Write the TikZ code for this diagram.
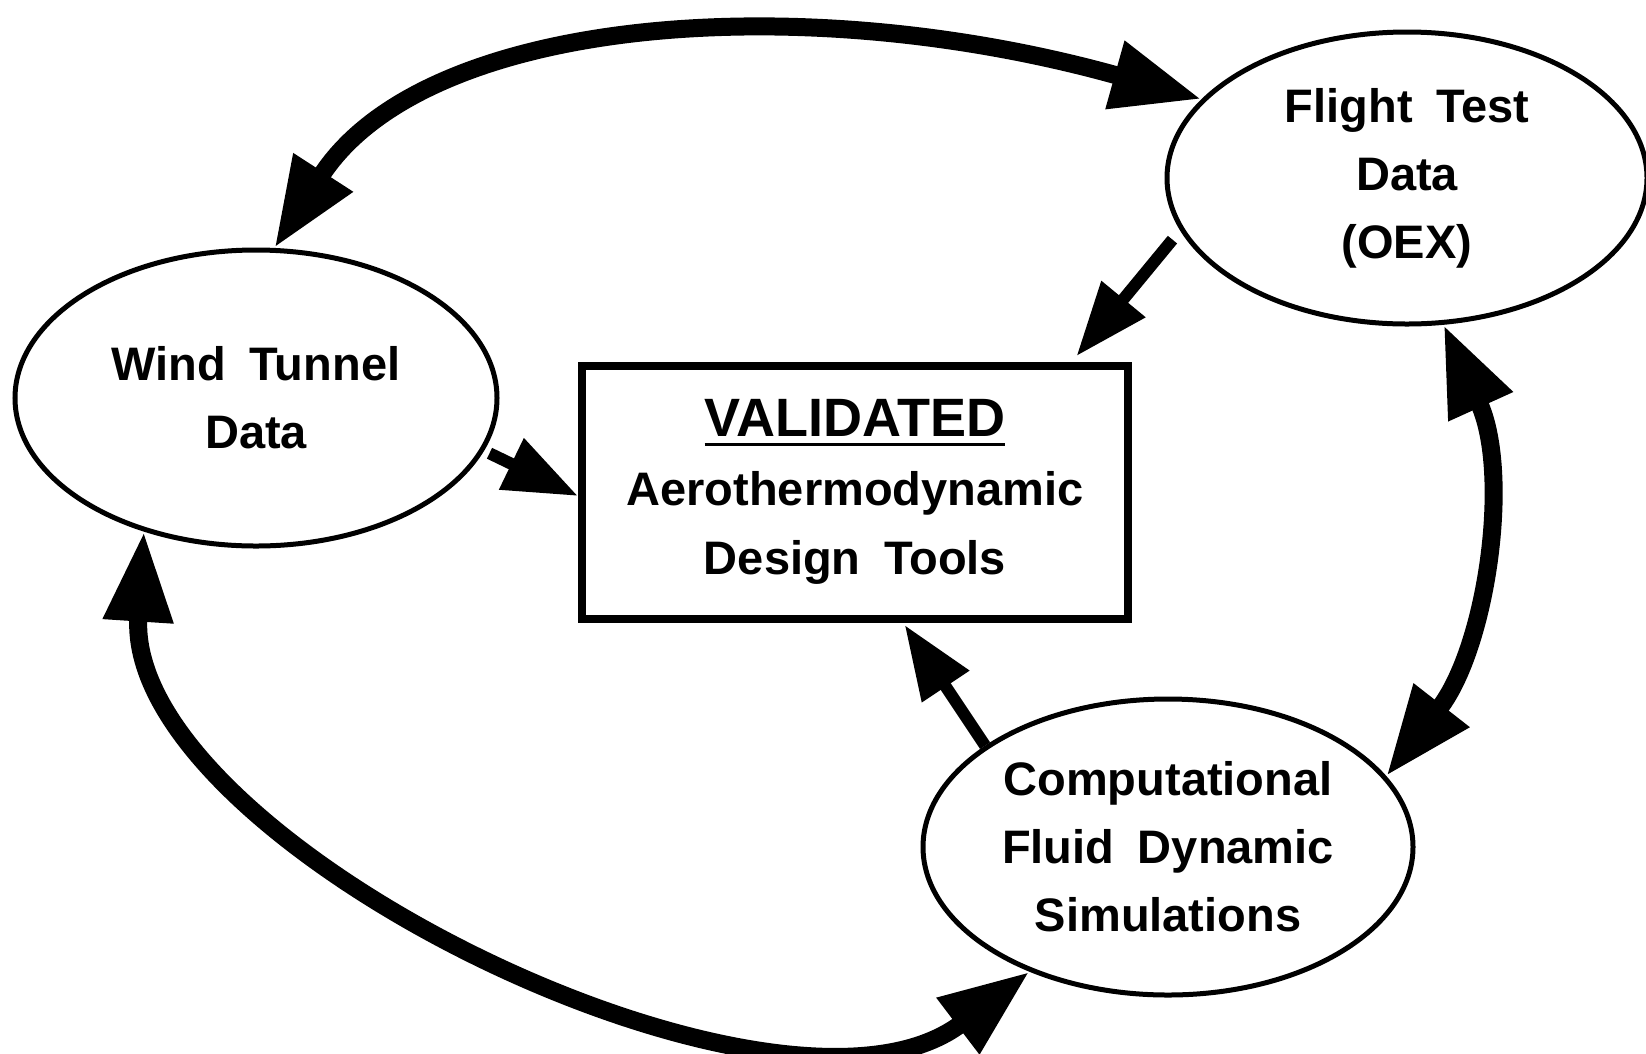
\documentclass[tikz,border=0pt]{standalone}
\usepackage{fontspec}
\setmainfont{Liberation Sans}[WordSpace=1.8]
\usetikzlibrary{shapes.geometric}
\usetikzlibrary{arrows.meta}

\newcommand{\ulword}[1]{\vtop{\hbox{#1}\kern6pt\hrule height 3.5pt}}

\begin{document}
\begin{tikzpicture}[x=1pt, y=-1pt,
    bubble/.style={draw, ellipse, line width=5pt, inner sep=0pt, align=center,
        font=\fontsize{47}{68}\selectfont\bfseries},
    toolbox/.style={draw, line width=8pt, inner sep=0pt, align=center,
        font=\fontsize{47}{69}\selectfont\bfseries},
    bigarrow/.style={line width=18pt,
        {Triangle[length=90pt,width=66pt]}-{Triangle[length=90pt,width=66pt]}},
    feedarrow/.style={line width=12pt, -{Triangle[length=74pt,width=54pt]}}]
    \useasboundingbox (0,0) rectangle (1646,1053);

    \node[bubble, minimum width=482pt, minimum height=296pt] (wt) at (256,398)
        {Wind Tunnel\\Data};
    \node[bubble, minimum width=480pt, minimum height=292pt] (ft) at (1407,178)
        {Flight Test\\Data\\(OEX)};
    \node[bubble, minimum width=490pt, minimum height=296pt] (cfd) at (1168,847)
        {Computational\\Fluid Dynamic\\Simulations};
    \node[toolbox, minimum width=546pt, minimum height=253pt] (vt) at (855,492)
        {{\fontsize{54}{69}\selectfont\ulword{VALIDATED}}\\Aerothermodynamic\\Design Tools};

    \draw[bigarrow] (wt.83) .. controls +(150,-232) and +(-400,-112) .. (ft.159);
    \draw[bigarrow] (ft.-76) .. controls +(68,150) and +(100,-128) .. (cfd.18);
    \draw[bigarrow] (wt.230) .. controls +(-20,310) and +(-250,190) .. (cfd.222);

    \draw[feedarrow, shorten <=12pt, shorten >=7pt] (ft.193) -- (1072,0 |- vt.north);
    \draw[feedarrow, shorten <=6pt] (wt.-13) -- (vt.west |- 0,496);
    \draw[feedarrow, shorten >=3pt] (cfd.151) -- (903,0 |- vt.south);
\end{tikzpicture}
\end{document}
